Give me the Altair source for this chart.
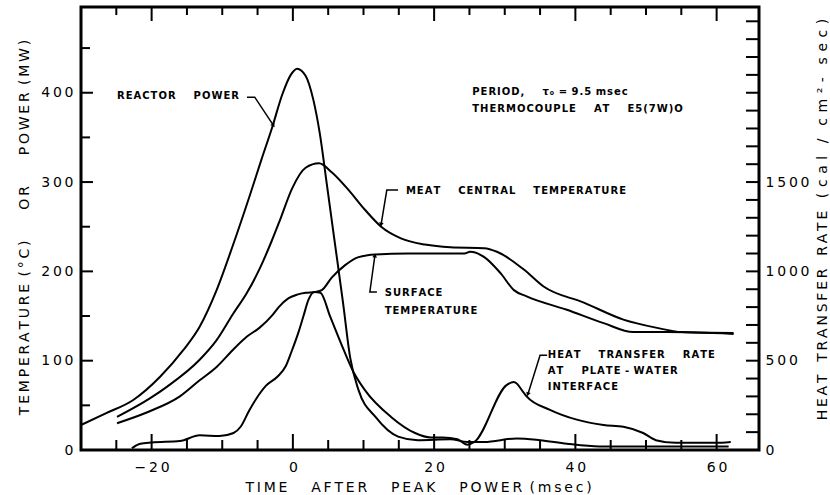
import altair as alt
import pandas as pd

# ---- measured series, time in ms after peak power ----
power_t = [-30, -26.5, -22.6, -18.8, -15.5, -13.2, -10.8, -8.5, -6.1, -4.5, -2.9, -1.5, -0.3, 0.6,
           1.8, 2.9, 3.8, 4.8, 5.8, 7.1, 8.1, 9.3, 11.7, 14.9, 17.7, 22.3, 24.7, 27.1, 31.7,
           35, 38.8, 43.4, 50.4, 61.7]
power_mw = [28, 41, 56, 82, 112, 138, 179, 229, 285, 324, 362, 398, 420, 427,
            419, 392, 355, 298, 240, 165, 104, 67, 37, 15, 11, 12, 9, 9, 13,
            11, 7, 4, 4, 4]

meat_t = [-24.9, -20.2, -17.8, -13.2, -10.8, -8.5, -6.5, -4.7, -3, -1.8, -0.1, 1.8, 3.7, 5.5,
          7.9, 10.2, 12.5, 15.3, 18.7, 22.3, 27.1, 28.9, 32.7, 35.5, 41.2, 46.8, 51.4, 55.1, 62.4]
meat_c = [37, 58, 71, 101, 123, 152, 176, 203, 234, 258, 293, 316, 321, 311,
          291, 269, 250, 237, 230, 227, 226, 222, 202, 183, 165, 146, 137, 132, 131]

surface_t = [-24.9, -20.7, -16, -13.2, -10.8, -8.5, -6.5, -4.7, -2.9, -2, -0.6, 0.6, 1.8, 3.2,
             4.1, 5.5, 7.4, 9.3, 11.7, 16.3, 24.3, 25.1, 27.1, 29.4, 31.3, 33.1, 38.8, 44,
             48.2, 52.8, 62.4]
surface_c = [30, 42, 60, 78, 93, 112, 127, 137, 151, 160, 170, 174, 176, 177,
             179, 193, 207, 216, 219, 220, 220, 222, 216, 198, 179, 172, 157, 142,
             132, 132, 130]

heat_t = [-22.8, -21.6, -20, -16, -13.2, -10.4, -8.4, -7.4, -6.2, -5.3, -3.8, -2.2, -1, -0.2,
          0.8, 1.5, 2.2, 3.0, 3.9, 5.3, 7.2, 8.6, 10.2, 13.9, 17.3, 19.5, 21.2, 23.3, 24.7,
          25.7, 30.3, 31.3, 32.7, 33.1, 36.4, 40.2, 44, 46.8, 49.6, 51.4, 54.2, 59.8, 62]
heat_rate = [10, 35, 42, 50, 82, 78, 95, 130, 220, 280, 360, 410, 470, 550,
             660, 750, 840, 885, 880, 745, 560, 435, 335, 185, 95, 70, 70, 60, 30,
             45, 365, 380, 320, 300, 225, 170, 140, 130, 95, 55, 40, 40, 45]

# ---- axes ----
X_DOMAIN = [-30, 66]
Y_LEFT = [0, 496]
Y_RIGHT = [0, 2480]
x_labels = [-20, 0, 20, 40, 60]
x_major = [-20, 0, 20, 40, 60]
x_minor = [-25, -15, -10, -5, 5, 10, 15, 25, 30, 35, 45, 50, 55]
left_labels = [0, 100, 200, 300, 400]
left_major = [100, 200, 300, 400]
left_minor = [50, 150, 250, 350, 450]
right_labels = [0, 500, 1000, 1500]
right_ticks = [100, 200, 300, 400, 500, 600, 700, 800, 900, 1000, 1100, 1200,
               1300, 1400, 1500, 1600, 1700, 1800, 1900, 2000, 2100, 2200, 2300, 2400]

# ---- annotation text (left-scale coordinates); "  " marks a wide word gap ----
note_text = ["REACTOR  POWER", "MEAT  CENTRAL  TEMPERATURE", "SURFACE", "TEMPERATURE",
             "HEAT  TRANSFER  RATE", "AT  PLATE - WATER", "INTERFACE",
             "PERIOD,  τ₀ = 9.5 msec", "THERMOCOUPLE  AT  E5(7W)O"]
note_t = [-24.9, 16.0, 13.0, 13.0, 36.1, 36.1, 36.1, 25.4, 25.4]
note_v = [396, 290, 176, 156, 106, 88, 70, 401, 382]

# leader lines from labels to curves
leader_id = ["p", "p", "p", "m", "m", "m", "s", "s", "s", "h", "h", "h"]
leader_t = [-6.5, -5.4, -2.8, 14.9, 13.3, 12.5, 11.9, 10.9, 11.6, 36.0, 35.0, 33.3]
leader_v = [395, 395, 364, 291, 291, 253, 177, 177, 217, 106, 106, 63]
arrow_t = [-2.8, 12.5, 11.6, 33.3]
arrow_v = [364, 253, 217, 63]
arrow_angle = [147, 190, 8, 197]

x_title = "TIME  AFTER  PEAK  POWER (msec)"
yl_title = "TEMPERATURE (°C)  OR  POWER (MW)"
yr_words = "HEAT  TRANSFER  RATE"
yr_unit = "(cal / cm²- sec)"

W, H = 678, 443
THIN = "\u2009"
HAIR = "\u200a"
EN = "\u2002"
EM = "\u2003"
FONT = "DejaVu Sans"


def spaced(s, letter=THIN, wide=EM + EN, narrow=None):
    # letter-spaced lettering; double space -> wide gap, single space -> narrow gap
    narrow = ("\u00a0" + letter) if narrow is None else narrow
    out = []
    for phrase in s.split("  "):
        out.append(narrow.join(letter.join(w) for w in phrase.split(" ") if w))
    return (letter + wide).join(out)


digits_expr = "join(split(format(datum.value, 'd'), ''), '\u2009')"

xs = alt.Scale(domain=X_DOMAIN, nice=False, zero=False)
yl = alt.Scale(domain=Y_LEFT, nice=False)
yr = alt.Scale(domain=Y_RIGHT, nice=False)

title_style = dict(titleFont=FONT, titleFontSize=14, titleFontWeight="normal",
                   titleColor="black", titleBaseline="middle", titleAlign="center")
label_style = dict(labelFont=FONT, labelFontSize=14, labelColor="black",
                   labelExpr=digits_expr, ticks=False, domain=False, grid=False)

right_title = (spaced(yr_words, wide=EN + THIN) + THIN + EN + THIN
               + spaced(yr_unit, letter=THIN + THIN, narrow=EN + THIN + THIN))

x_axis = alt.Axis(values=x_labels, labelPadding=10, title=spaced(x_title),
                  titleX=337, titleY=37, **label_style, **title_style)
yl_axis = alt.Axis(orient="left", values=left_labels, labelPadding=8,
                   title=spaced(yl_title, wide=EM + EM),
                   titleAngle=270, titleX=-57, titleY=220, **label_style, **title_style)
yr_axis = alt.Axis(orient="right", values=right_labels, labelPadding=6,
                   title=right_title,
                   titleAngle=270, titleX=63, titleY=212, **label_style, **title_style)

X = alt.X("t:Q", scale=xs, axis=x_axis)
YL = alt.Y("v:Q", scale=yl, axis=yl_axis)

curves = pd.concat([
    pd.DataFrame({"t": power_t, "v": power_mw, "s": "power"}),
    pd.DataFrame({"t": meat_t, "v": meat_c, "s": "meat"}),
    pd.DataFrame({"t": surface_t, "v": surface_c, "s": "surface"}),
])

lines = alt.Chart(curves).mark_line(color="black", strokeWidth=2, interpolate="monotone").encode(
    x=X, y=YL, detail="s:N")


def x_ticks(vals, top_len, bottom_len):
    d = pd.DataFrame({"t": vals})
    base = alt.Chart(d).mark_rule(color="black", strokeWidth=2)
    bottom = base.encode(x=X, y=alt.value(H), y2=alt.value(H - bottom_len))
    top = base.encode(x=X, y=alt.value(0), y2=alt.value(top_len))
    return [bottom, top]


def left_ticks(vals, length):
    d = pd.DataFrame({"v": vals})
    return alt.Chart(d).mark_rule(color="black", strokeWidth=2).encode(
        y=YL, x=alt.value(0), x2=alt.value(length))


notes = alt.Chart(pd.DataFrame({"t": note_t, "v": note_v,
                                "txt": [spaced(s, letter=HAIR, wide=EM + EN + THIN)
                                        for s in note_text]})).mark_text(
    align="left", baseline="middle", font=FONT, fontSize=10, fontWeight="bold", color="black"
).encode(x=X, y=YL, text="txt:N")

leaders = alt.Chart(pd.DataFrame({"t": leader_t, "v": leader_v, "id": leader_id,
                                  "k": list(range(len(leader_t)))})).mark_line(
    color="black", strokeWidth=1.5
).encode(x=X, y=YL, detail="id:N", order="k:Q")

arrows = alt.Chart(pd.DataFrame({"t": arrow_t, "v": arrow_v, "a": arrow_angle})).mark_point(
    shape="triangle", filled=True, color="black", size=22, opacity=1
).encode(x=X, y=YL, angle=alt.Angle("a:Q", scale=None))

left = alt.layer(
    lines, *x_ticks(x_major, 14, 16), *x_ticks(x_minor, 8, 10),
    left_ticks(left_major, 12), left_ticks(left_minor, 9),
    leaders, arrows, notes,
)

YR = alt.Y("r:Q", scale=yr, axis=yr_axis)

heat = alt.Chart(pd.DataFrame({"t": heat_t, "r": heat_rate})).mark_line(
    color="black", strokeWidth=2, interpolate="monotone"
).encode(x=X, y=YR)

rticks = alt.Chart(pd.DataFrame({"r": right_ticks})).mark_rule(color="black", strokeWidth=2).encode(
    y=YR, x=alt.value(W - 13), x2=alt.value(W))

right = alt.layer(heat, rticks)

chart = alt.layer(left, right).resolve_scale(y="independent").properties(
    width=W, height=H,
    padding={"left": 81, "top": 7, "right": 71, "bottom": 45},
    autosize=alt.AutoSizeParams(type="none"),
    background="white",
).configure_view(stroke="black", strokeWidth=3)

chart.save("out.html", embed_options={"renderer": "svg", "actions": False})
